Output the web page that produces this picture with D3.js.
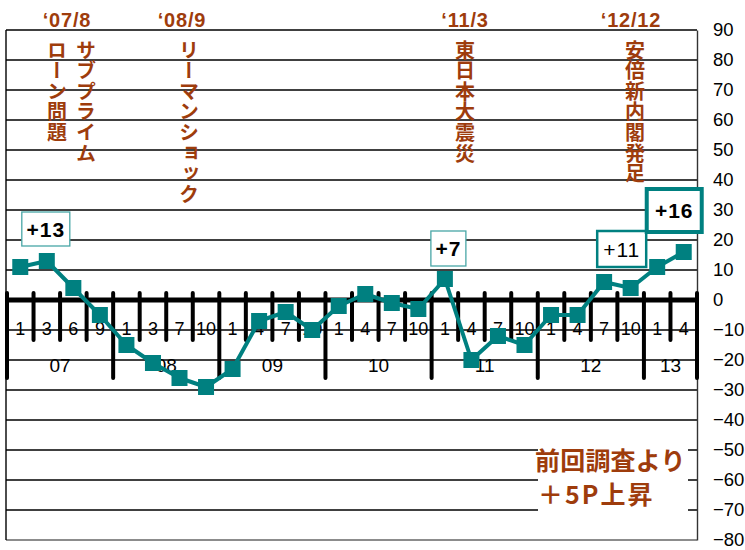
<!DOCTYPE html>
<html><head><meta charset="utf-8">
<script src="https://cdn.jsdelivr.net/npm/d3@7"></script>
<style>body{margin:0;background:#fff}</style>
</head><body><svg id="c" width="745" height="550"></svg>
<script>
// ---- data ----
const years = ["07","08","09","10","11","12","13"];
const yearCounts = [4,4,4,4,4,4,2];
const quarterLabels = ["1","3","6","9","1","3","7","10","1","4","7","10","1","4","7","10","1","4","7","10","1","4","7","10","1","4"];
const values = [11,13,4,-5,-15,-21,-26,-29,-23,-7,-4,-10,-2,2,-1,-3,7,-20,-12,-15,-5,-5,6,4,11,16];
const yTicks = [90,80,70,60,50,40,30,20,10,0,-10,-20,-30,-40,-50,-60,-70,-80];
const eventDates = ["‘07/8","‘08/9","‘11/3","‘12/12"];
const eventTexts = [["ローン問題","サブプライム"],["リーマンショック"],["東日本大震災"],["安倍新内閣発足"]];
const calloutIdx = [1,16,24,25];
const calloutText = ["+13","+7","+11","+16"];
const noteLines = ["前回調査より","＋5P上昇"];

// ---- chart ----
const svg = d3.select("#c");
const BROWN = "#9e3c0c", TEAL = "#008080";
const x = d3.scaleBand().domain(d3.range(values.length)).range([7,697]).padding(0);
const y = d3.scaleLinear().domain([-80,90]).range([540,30]);
const cx = i => x(i) + x.bandwidth()/2;

// gridlines
svg.append("g").selectAll("line").data(yTicks.filter(d=>d!==0)).join("line")
  .attr("x1",6).attr("x2",697).attr("y1",d=>y(d)).attr("y2",d=>y(d))
  .attr("stroke",d=>d===-80?"#666":"#000").attr("stroke-width",1.4);
svg.append("line").attr("x1",6).attr("x2",6).attr("y1",y(90)).attr("y2",y(-80)).attr("stroke","#000").attr("stroke-width",1.4);

// right axis
const ax = svg.append("g").attr("transform","translate(697,0)")
  .call(d3.axisRight(y).tickValues(yTicks).tickSize(0).tickPadding(16));
ax.select(".domain").attr("stroke","#333").attr("stroke-width",1.4);
ax.selectAll("text").attr("font-family","Liberation Sans, Arial, sans-serif").attr("font-size",18.5).attr("fill","#000");

// note box (white background)
svg.append("rect").attr("x",538).attr("y",441).attr("width",150).attr("height",75).attr("fill","#fff");
svg.append("g").selectAll("text").data(noteLines).join("text")
  .attr("x",(d,i)=>i?538:535).attr("y",(d,i)=>470+i*34)
  .attr("font-family","Noto Sans CJK JP, sans-serif").attr("font-weight",700).attr("font-size",25)
  .attr("letter-spacing",(d,i)=>i?2:0.2)
  .attr("fill",BROWN).text(d=>d);

// zero axis with category ticks
const bw = x.bandwidth();
const yearBounds = [0];
yearCounts.forEach(c=>yearBounds.push(yearBounds[yearBounds.length-1]+c));
const boundaries = d3.range(values.length+1);
svg.append("g").selectAll("line").data(boundaries).join("line")
  .attr("x1",k=>7+k*bw).attr("x2",k=>7+k*bw)
  .attr("y1",293).attr("y2",k=>yearBounds.includes(k)?378:340)
  .attr("stroke","#000").attr("stroke-width",4).attr("stroke-linecap","round");
svg.append("line").attr("x1",7).attr("x2",697).attr("y1",y(0)).attr("y2",y(0))
  .attr("stroke","#000").attr("stroke-width",5);

svg.append("g").selectAll("text").data(quarterLabels).join("text")
  .attr("x",(d,i)=>cx(i)).attr("y",335).attr("text-anchor","middle")
  .attr("font-family","Liberation Sans, Arial, sans-serif").attr("font-size",18).attr("fill","#000").text(d=>d);
svg.append("g").selectAll("text").data(years).join("text")
  .attr("x",(d,i)=>7+(yearBounds[i]+yearBounds[i+1])/2*bw).attr("y",372).attr("text-anchor","middle")
  .attr("font-family","Liberation Sans, Arial, sans-serif").attr("font-size",19).attr("fill","#000").text(d=>d);

// event annotations
const evX = [67,182,465,631];
svg.append("g").selectAll("text").data(eventDates).join("text")
  .attr("x",(d,i)=>evX[i]).attr("y",27).attr("text-anchor","middle")
  .attr("font-family","Liberation Sans, Arial, sans-serif").attr("font-weight",700).attr("font-size",20)
  .attr("letter-spacing",0.8).attr("fill",BROWN).text(d=>d);
const vtX = [[57,86],[189],[465],[635]];
eventTexts.forEach((lines,i)=>{
  lines.forEach((t,j)=>{
    svg.append("text").attr("x",vtX[i][j]).attr("y",40)
      .style("writing-mode","vertical-rl")
      .attr("font-family","Noto Sans CJK JP, sans-serif").attr("font-weight",700).attr("font-size",20)
      .attr("letter-spacing",0.6).attr("fill",BROWN).text(t);
  });
});

// series
svg.append("path").datum(values)
  .attr("d",d3.line().x((d,i)=>cx(i)).y(d=>y(d)))
  .attr("fill","none").attr("stroke",TEAL).attr("stroke-width",4).attr("stroke-linejoin","round");
svg.append("g").selectAll("rect").data(values).join("rect")
  .attr("x",(d,i)=>cx(i)-8).attr("y",d=>y(d)-8).attr("width",16).attr("height",16).attr("fill",TEAL);

// callouts
const co = [
  {dx:-1, top:212, w:48, h:34, sw:1.3, bold:true, stroke:"#48a6a6"},
  {dx:3.5, top:231, w:35, h:35, sw:1.3, bold:true, stroke:"#48a6a6"},
  {dx:-35.5, top:231, w:49, h:36, sw:2.5, bold:false, stroke:TEAL},
  {dx:-9.5, top:189, w:55, h:43, sw:4, bold:true, stroke:TEAL}
];
calloutIdx.forEach((idx,i)=>{
  const c = co[i], mx = cx(idx)+c.dx;
  svg.append("rect").attr("x",mx-c.w/2).attr("y",c.top).attr("width",c.w).attr("height",c.h)
    .attr("fill","#fff").attr("stroke",c.stroke).attr("stroke-width",c.sw);
  svg.append("text").attr("x",mx).attr("y",c.top+c.h/2+7.5).attr("text-anchor","middle")
    .attr("font-family","Liberation Sans, Arial, sans-serif").attr("font-weight",c.bold?700:400)
    .attr("font-size",21).attr("letter-spacing",1).attr("fill","#000").text(calloutText[i]);
});
</script></body></html>
